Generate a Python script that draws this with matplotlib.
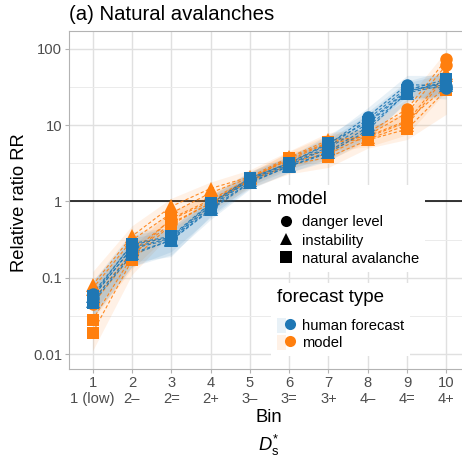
import matplotlib
matplotlib.use("Agg")
import matplotlib.pyplot as plt
from matplotlib.lines import Line2D
from matplotlib.patches import Patch
from matplotlib.legend_handler import HandlerTuple

plt.rcParams['font.family'] = ['Liberation Sans', 'DejaVu Sans']
plt.rcParams['mathtext.fontset'] = 'custom'
plt.rcParams['mathtext.rm'] = 'Liberation Sans'
plt.rcParams['mathtext.it'] = 'Liberation Sans:italic'

# ---------------- data ----------------
bins = [1, 2, 3, 4, 5, 6, 7, 8, 9, 10]
bin_labels = ["1\n1 (low)", "2\n2\u2013", "3\n2=", "4\n2+", "5\n3\u2013",
              "6\n3=", "7\n3+", "8\n4\u2013", "9\n4=", "10\n4+"]
y_ticks = [0.01, 0.1, 1, 10, 100]
y_tick_labels = ["0.01", "0.1", "1", "10", "100"]
y_minor = [0.0316, 0.316, 3.16, 31.6]

# human forecast (blue)
danger_h1 = [0.062, 0.27, 0.34, 0.93, 2.0, 3.2, 5.6, 13.0, 34, 33]
danger_h2 = [0.055, 0.25, 0.33, 0.88, 1.95, 3.1, 5.2, 12.0, 31, 31]
instab_h1 = [0.057, 0.24, 0.32, 0.85, 1.9, 3.0, 5.0, 10.5, 28, 36]
instab_h2 = [0.050, 0.21, 0.31, 0.80, 1.8, 2.9, 4.5, 9.5, 26.5, 34]
natav_h1 = [0.058, 0.28, 0.35, 0.95, 2.03, 3.2, 5.8, 11.0, 29, 40]
natav_h2 = [0.047, 0.20, 0.31, 0.77, 1.75, 2.9, 4.3, 8.6, 27, 38]

# model (orange)
danger_m1 = [0.050, 0.22, 0.58, 1.00, 2.0, 3.6, 4.6, 8.0, 16.3, 73]
danger_m2 = [0.045, 0.20, 0.52, 0.95, 1.9, 3.3, 4.2, 7.4, 14.5, 62]
instab_m1 = [0.080, 0.35, 0.86, 1.48, 2.1, 3.8, 6.4, 7.0, 11, 49]
instab_m2 = [0.072, 0.31, 0.70, 1.30, 2.05, 3.5, 5.9, 6.6, 10, 45]
natav_m1 = [0.028, 0.19, 0.60, 1.05, 2.0, 3.7, 6.0, 7.2, 11.5, 32]
natav_m2 = [0.019, 0.17, 0.50, 0.95, 1.85, 3.0, 3.8, 6.4, 8.9, 29]

# confidence ribbons
band_danger_h_lo = [0.035, 0.16, 0.19, 0.65, 1.6, 2.6, 4.0, 9.0, 24, 22]
band_danger_h_hi = [0.090, 0.36, 0.45, 1.15, 2.4, 3.9, 7.0, 17, 45, 45]
band_instab_h_lo = [0.030, 0.14, 0.22, 0.62, 1.5, 2.4, 3.6, 7.0, 20, 25]
band_instab_h_hi = [0.085, 0.33, 0.42, 1.05, 2.3, 3.7, 6.5, 14, 36, 48]
band_natav_h_lo = [0.030, 0.14, 0.20, 0.58, 1.45, 2.4, 3.4, 6.5, 21, 26]
band_natav_h_hi = [0.090, 0.40, 0.45, 1.20, 2.5, 3.9, 7.5, 15, 38, 52]
band_danger_m_lo = [0.028, 0.13, 0.40, 0.80, 1.6, 2.8, 3.5, 6.0, 11, 35]
band_danger_m_hi = [0.075, 0.30, 0.75, 1.20, 2.4, 4.4, 5.6, 10, 22, 95]
band_instab_m_lo = [0.050, 0.23, 0.55, 1.10, 1.75, 2.9, 4.6, 5.2, 7.5, 28]
band_instab_m_hi = [0.120, 0.48, 1.10, 1.80, 2.6, 4.6, 8.0, 9.0, 15, 70]
band_natav_m_lo = [0.011, 0.11, 0.38, 0.75, 1.5, 2.3, 2.8, 5.0, 6.5, 14]
band_natav_m_hi = [0.045, 0.25, 0.75, 1.30, 2.4, 4.5, 7.5, 9.0, 15, 45]

model_names = ["danger level", "instability", "natural avalanche"]
forecast_names = ["human forecast", "model"]

BLUE = "#1F77B4"
ORANGE = "#FF7F0E"
markers = {"danger level": "o", "instability": "^", "natural avalanche": "s"}
msizes = {"danger level": 9, "instability": 10, "natural avalanche": 9}

groups = [
    ("model", "danger level", [danger_m1, danger_m2], band_danger_m_lo, band_danger_m_hi),
    ("model", "instability", [instab_m1, instab_m2], band_instab_m_lo, band_instab_m_hi),
    ("model", "natural avalanche", [natav_m1, natav_m2], band_natav_m_lo, band_natav_m_hi),
    ("human forecast", "danger level", [danger_h1, danger_h2], band_danger_h_lo, band_danger_h_hi),
    ("human forecast", "instability", [instab_h1, instab_h2], band_instab_h_lo, band_instab_h_hi),
    ("human forecast", "natural avalanche", [natav_h1, natav_h2], band_natav_h_lo, band_natav_h_hi),
]
colors = {"human forecast": BLUE, "model": ORANGE}

# ---------------- figure ----------------
W, H = 462, 459
fig = plt.figure(figsize=(W / 100, H / 100), dpi=100)
ax = fig.add_axes([69 / W, 1 - 369 / H, 401 / W, (369 - 31) / H])

ax.set_yscale("log")
ax.set_yticks(y_ticks)
ax.set_yticklabels(y_tick_labels)
ax.set_yticks(y_minor, minor=True)
ax.yaxis.set_minor_formatter(matplotlib.ticker.NullFormatter())
ax.set_xticks(bins)
ax.set_xticklabels(bin_labels)
ax.set_xlim(0.4, 10.6)
ax.set_ylim(0.00636, 172)

ax.grid(True, which="major", color="#E0E0E0", lw=1.0, zorder=0)
ax.grid(True, which="minor", axis="y", color="#EBEBEB", lw=0.7, zorder=0)
ax.set_axisbelow(True)
ax.tick_params(which="minor", length=0)
ax.tick_params(which="major", length=3, width=0.8, color="#B3B3B3",
               labelsize=10.6, labelcolor="#4D4D4D", pad=2)
for s in ax.spines.values():
    s.set_color("#B3B3B3")
    s.set_linewidth(0.8)

ax.axhline(1, color="black", lw=1.1, zorder=1)

# ribbons
for ft, mod, lines, lo, hi in groups:
    ax.fill_between(bins, lo, hi, color=colors[ft], alpha=0.1, lw=0, zorder=2)
# lines
for ft, mod, lines, lo, hi in groups:
    for vals in lines:
        ax.plot(bins, vals, ls=(0, (3, 2)), lw=0.8, color=colors[ft], alpha=0.9, zorder=3)
# points
for ft, mod, lines, lo, hi in groups:
    for vals in lines:
        ax.plot(bins, vals, ls="none", marker=markers[mod], ms=msizes[mod],
                mfc=colors[ft], mec=colors[ft], mew=0, zorder=4)

# text
fig.text(69 / W, 1 - 15 / H, "(a) Natural avalanches", fontsize=14.7,
         ha="left", va="center", color="black")
fig.text(20 / W, 1 - 203 / H, "Relative ratio RR", fontsize=13.2,
         rotation=90, ha="center", va="center", color="black")
fig.text(269 / W, 1 - 417 / H, "Bin", fontsize=13.2, ha="center", va="center")
fig.text(269 / W, 1 - 445 / H, r"$D_\mathrm{s}^{*}$", fontsize=13.2,
         ha="center", va="center")

# legends
h_model = [Line2D([], [], ls="none", marker=markers[m], ms=8 if m != "instability" else 9,
                  mfc="black", mec="black", mew=0) for m in model_names]
leg1 = fig.legend(h_model, model_names, title="model", loc="upper left",
                  bbox_to_anchor=(271 / W, 1 - 185 / H), bbox_transform=fig.transFigure,
                  borderaxespad=0, fontsize=10.6, title_fontsize=13.5,
                  frameon=True, fancybox=False, edgecolor="none", facecolor="white",
                  framealpha=1, borderpad=0.4, handlelength=1.2, handletextpad=0.5,
                  labelspacing=0.28, alignment="left")
leg1._legend_box.sep = 5.4
leg1.set_zorder(10)

h_fc = []
for ft in forecast_names:
    p = Patch(facecolor=colors[ft], alpha=0.1, edgecolor="none")
    l = Line2D([], [], ls="none", marker="o", ms=8, mfc=colors[ft], mec=colors[ft], mew=0)
    h_fc.append((p, l))
leg2 = fig.legend(h_fc, forecast_names, title="forecast type", loc="upper left",
                  bbox_to_anchor=(271 / W, 1 - 283 / H), bbox_transform=fig.transFigure,
                  borderaxespad=0, fontsize=10.6, title_fontsize=13.5,
                  frameon=True, fancybox=False, edgecolor="none", facecolor="white",
                  framealpha=1, borderpad=0.4, handlelength=1.2, handleheight=1.2,
                  handletextpad=0.5, labelspacing=0.1, alignment="left",
                  handler_map={tuple: HandlerTuple(ndivide=None, pad=0)})
leg2._legend_box.sep = 8.5
leg2.set_zorder(10)

fig.savefig("out.png", dpi=100)
